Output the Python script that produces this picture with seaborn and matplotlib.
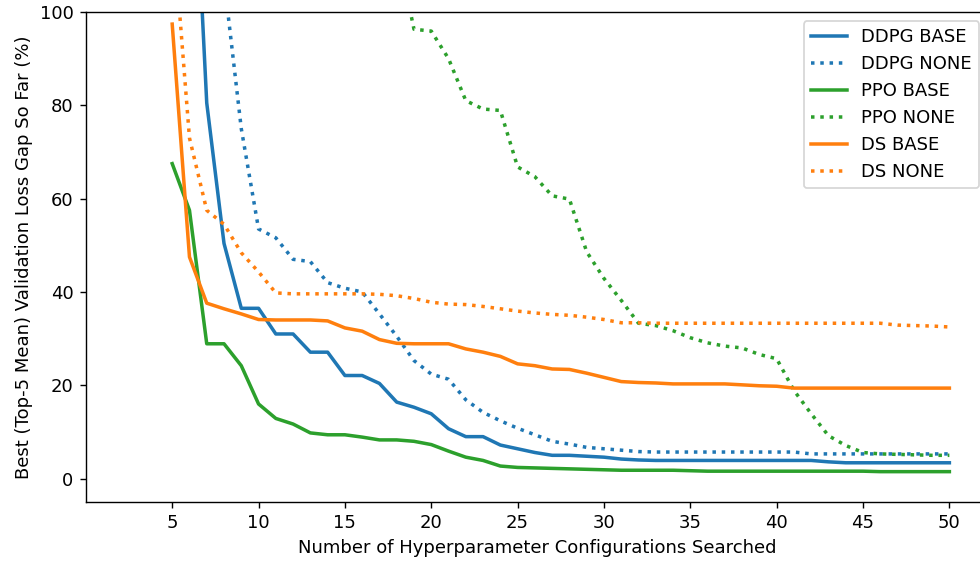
import matplotlib
matplotlib.use("Agg")
import matplotlib.pyplot as plt
import seaborn as sns
import numpy as np

configs = list(range(5, 51))

ddpg_base = [250, 155, 80.5, 50.4, 36.5, 36.5, 31.0, 31.0, 27.1, 27.1, 22.1, 22.1, 20.4, 16.4,
             15.3, 13.9, 10.7, 9.0, 9.0, 7.2, 6.4, 5.6, 5.0, 5.0, 4.8, 4.6, 4.2, 4.0,
             3.9, 3.9, 3.9, 3.9, 3.9, 3.9, 3.9, 3.9, 3.9, 3.9, 3.6,
             3.4, 3.4, 3.4, 3.4, 3.4, 3.4, 3.4]
ddpg_none = [300, 200, 140, 107, 75, 53.5, 51.6, 47.0, 46.5, 42.0, 40.8, 40.0, 35.3, 30.5,
             25.3, 22.4, 21.3, 16.9, 14.2, 12.4, 10.8, 9.4, 8.0, 7.4, 6.7, 6.4, 6.1, 5.8,
             5.7, 5.7, 5.7, 5.7, 5.7, 5.7, 5.7, 5.7, 5.7,
             5.3, 5.3, 5.3, 5.3, 5.3, 5.3, 5.3, 5.3, 5.3]
ppo_base = [67.5, 57.5, 28.9, 28.9, 24.2, 16.0, 12.9, 11.7, 9.8, 9.4, 9.4, 8.9, 8.3, 8.3,
            8.0, 7.3, 5.9, 4.6, 3.9, 2.7, 2.4, 2.3, 2.2, 2.1, 2.0, 1.9, 1.8, 1.8, 1.8, 1.8, 1.7,
            1.6, 1.6, 1.6, 1.6, 1.6, 1.6, 1.6, 1.6, 1.6, 1.6,
            1.5, 1.5, 1.5, 1.5, 1.5]
ppo_none = [320, 300, 280, 260, 240, 220, 200, 185, 170, 155, 145, 135, 125, 114,
            96.3, 95.9, 90.0, 81.0, 79.2, 78.9, 66.8, 64.7, 60.6, 59.9, 48.6, 42.9, 38.2, 33.3,
            32.8, 31.7, 30.2, 29.1, 28.4, 28.0, 26.6, 25.7, 18.9, 13.9, 9.2, 7.1, 5.6, 5.3,
            5.2, 5.1, 5.0, 5.0]
ds_base = [97.4, 47.5, 37.6, 36.4, 35.3, 34.1, 34.0, 34.0, 34.0, 33.8, 32.3, 31.6, 29.8, 29.0,
           28.9, 28.9, 28.9, 27.8, 27.1, 26.2, 24.6, 24.2, 23.5, 23.4, 22.6, 21.7, 20.8, 20.6,
           20.5, 20.3, 20.3, 20.3, 20.3, 20.1, 19.9, 19.8,
           19.4, 19.4, 19.4, 19.4, 19.4, 19.4, 19.4, 19.4, 19.4, 19.4]
ds_none = [120, 73, 57.5, 54.5, 48.4, 44.3, 39.8, 39.6, 39.6, 39.6, 39.6, 39.6, 39.5, 39.2,
           38.6, 37.8, 37.4, 37.3, 36.9, 36.4, 35.9, 35.5, 35.2, 35.0, 34.6, 34.1, 33.4, 33.4,
           33.3, 33.3, 33.3, 33.3, 33.3, 33.3, 33.3, 33.3, 33.3, 33.3, 33.3, 33.3, 33.3, 33.3,
           32.9, 32.8, 32.7, 32.5]

series_names = ["DDPG BASE", "DDPG NONE", "PPO BASE", "PPO NONE", "DS BASE", "DS NONE"]
series_vals = [ddpg_base, ddpg_none, ppo_base, ppo_none, ds_base, ds_none]
series_colors = ["tab:blue", "tab:blue", "tab:green", "tab:green", "tab:orange", "tab:orange"]
series_styles = ["-", ":", "-", ":", "-", ":"]

xticks = [5, 10, 15, 20, 25, 30, 35, 40, 45, 50]
yticks = [0, 20, 40, 60, 80, 100]

plt.rcParams["font.size"] = 10.3

dpi = 126
fig = plt.figure(figsize=(980 / dpi, 562 / dpi), dpi=dpi)
ax = fig.add_axes([0.0876, 0.1068, 0.9208, 0.8719])

for name, vals, c, ls in zip(series_names, series_vals, series_colors, series_styles):
    assert len(vals) == len(configs), name
    sns.lineplot(x=configs, y=vals, ax=ax, color=c, linestyle=ls, linewidth=2, label=name)

ax.set_xlim(0, 52.25)
ax.set_ylim(-5, 100)
ax.set_xticks(xticks)
ax.set_yticks(yticks)
ax.set_xlabel("Number of Hyperparameter Configurations Searched")
ax.set_ylabel("Best (Top-5 Mean) Validation Loss Gap So Far (%)")
ax.legend(loc="upper right")

fig.savefig("out.png", dpi=dpi)
